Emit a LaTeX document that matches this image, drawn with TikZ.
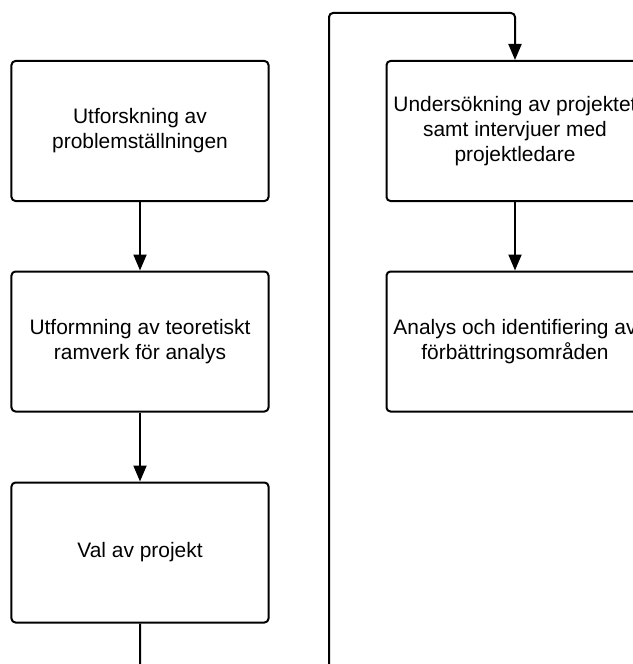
\documentclass[tikz,border=0pt]{standalone}
\usepackage{fontspec}
\setmainfont{Liberation Sans}
\usetikzlibrary{arrows.meta}
\begin{document}
\begin{tikzpicture}[x=1bp,y=-1bp,
  box/.style={draw, line width=2bp, rounded corners=4bp, minimum width=257bp, minimum height=140bp,
    align=center, inner sep=0pt, font=\fontsize{21}{25}\selectfont},
  conn/.style={line width=2bp, -{Triangle[length=16bp,width=13bp]}}]
\useasboundingbox (0,0) rectangle (633,664);
\clip (0,0) rectangle (633,664);
\fill[white] (0,0) rectangle (633,664);
\node[box] (u1) at (140,131) {Utforskning av\\problemställningen};
\node[box] (u2) at (140,341.5) {Utformning av teoretiskt\\ramverk för analys};
\node[box] (u3) at (140,552.5) {Val av projekt};
\node[box] (r1) at (515,131) {Undersökning av projektet\\samt intervjuer med\\projektledare};
\node[box] (r2) at (515,341.5) {Analys och identifiering av\\förbättringsområden};
\coordinate (b1) at (140,720);
\coordinate (b2) at (329,720);
\coordinate (t1) at (329,13);
\coordinate (t2) at (515,13);
\draw[conn] (u1) -- (u2);
\draw[conn] (u2) -- (u3);
\draw[conn] (r1) -- (r2);
\draw[conn, rounded corners=4bp] (u3) -- (b1) -- (b2) -- (t1) -- (t2) -- (r1);
\end{tikzpicture}
\end{document}
